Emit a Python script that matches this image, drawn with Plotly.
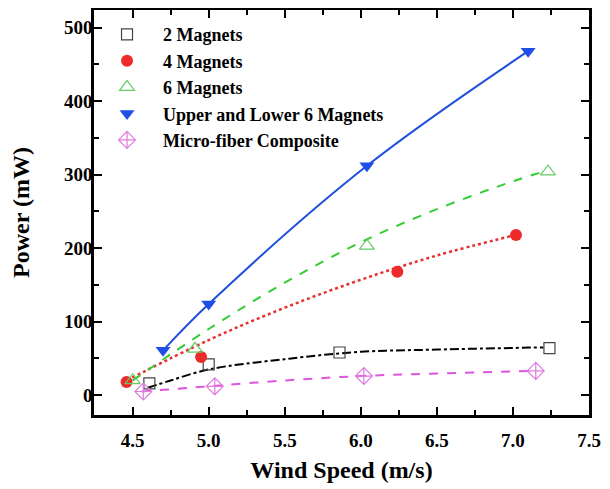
import plotly.graph_objects as go

# Measured points
mag2_x = [4.61, 5.00, 5.86, 7.24]
mag2_y = [16, 42, 58, 64]
mag4_x = [4.46, 4.95, 6.24, 7.02]
mag4_y = [18, 52, 168, 218]
mag6_x = [4.50, 4.91, 6.04, 7.23]
mag6_y = [20, 63, 203, 304]
ul6_x = [4.70, 5.00, 6.04, 7.10]
ul6_y = [61, 124, 312, 468]
micro_x = [4.57, 5.04, 6.02, 7.15]
micro_y = [5, 12, 26, 33]

# Fitted curves
mag2_fit_x = [4.60, 4.75, 5.00, 5.50, 6.00, 6.50, 7.20]
mag2_fit_y = [10, 20, 35, 49, 59, 62, 65]
mag4_fit_x = [4.46, 5.00, 5.50, 6.00, 6.50, 7.00]
mag4_fit_y = [20, 75, 119, 157, 190, 217]
mag6_fit_x = [4.50, 5.00, 5.50, 6.00, 6.50, 7.00, 7.20]
mag6_fit_y = [20, 90, 153, 208, 253, 291, 304]
ul6_fit_x = ul6_x
ul6_fit_y = ul6_y
micro_fit_x = [4.56, 5.00, 5.50, 6.00, 6.50, 7.10]
micro_fit_y = [5, 12, 20, 26, 29.5, 33]

names = ["2 Magnets", "4 Magnets", "6 Magnets", "Upper and Lower 6 Magnets", "Micro-fiber Composite"]

FONT = "Liberation Serif"
fig = go.Figure()

fits = [
    (mag2_fit_x, mag2_fit_y, "black", "dashdot", 2),
    (mag4_fit_x, mag4_fit_y, "#e83030", "dot", 2.5),
    (mag6_fit_x, mag6_fit_y, "#33cc33", "dash", 2),
    (ul6_fit_x, ul6_fit_y, "#1f4fdc", "solid", 2),
    (micro_fit_x, micro_fit_y, "#dd55dd", "dash", 2),
]
for fx, fy, c, d, w in fits:
    fig.add_trace(go.Scatter(x=fx, y=fy, mode="lines", line=dict(color=c, dash=d, width=w, shape="spline"),
                             showlegend=False, hoverinfo="skip"))

markers = [
    (mag2_x, mag2_y, dict(symbol="square-open", color="#444444", size=11, line=dict(width=1.2))),
    (mag4_x, mag4_y, dict(symbol="circle", color="#ee2a2a", size=12)),
    (mag6_x, mag6_y, dict(symbol="triangle-up-open", color="#66cc66", size=13, line=dict(width=1.2))),
    (ul6_x, ul6_y, dict(symbol="triangle-down", color="#1f4fe6", size=13)),
    (micro_x, micro_y, dict(symbol="diamond-cross-open", color="#e07be0", size=13, line=dict(width=1.2))),
]
for (mx, my, mk), nm in zip(markers, names):
    fig.add_trace(go.Scatter(x=mx, y=my, mode="markers", marker=mk, name=nm))

axis_common = dict(
    showline=True, linewidth=2.5, linecolor="black", mirror="allticks",
    ticks="inside", ticklen=8, tickwidth=2, tickcolor="black",
    showgrid=False, zeroline=False, automargin=False,
    tickfont=dict(family=FONT, size=19, color="black", weight="bold"),
)
fig.update_xaxes(range=[4.246, 7.5], tickvals=[4.5, 5.0, 5.5, 6.0, 6.5, 7.0, 7.5],
                 ticktext=["4.5", "5.0", "5.5", "6.0", "6.5", "7.0", "7.5"],
                 ticklabelstandoff=6,
                 minor=dict(ticks="inside", dtick=0.25, tick0=4.5, ticklen=5, tickwidth=2, tickcolor="black"),
                 title=dict(text="Wind Speed (m/s)", font=dict(family=FONT, size=24, color="black", weight="bold"), standoff=12),
                 **axis_common)
fig.update_yaxes(range=[-27, 524], tickvals=[0, 100, 200, 300, 400, 500],
                 ticklabelstandoff=-5,
                 minor=dict(ticks="inside", dtick=50, tick0=0, ticklen=5, tickwidth=2, tickcolor="black"),
                 title=dict(text="Power (mW)", font=dict(family=FONT, size=24, color="black", weight="bold"), standoff=30),
                 **axis_common)

# the page body adds an 8px margin, so the figure is sized 8px smaller
fig.update_layout(
    width=602, height=481,
    margin=dict(l=86, r=21, t=2, b=74),
    paper_bgcolor="white", plot_bgcolor="white",
    font=dict(family=FONT, color="black"),
    legend=dict(x=-0.006, y=0.985, xanchor="left", yanchor="top", bgcolor="rgba(0,0,0,0)",
                font=dict(family=FONT, size=18, color="black", weight="bold"), itemwidth=62,
                tracegroupgap=0),
    showlegend=True,
)
fig.write_html("out.html")
